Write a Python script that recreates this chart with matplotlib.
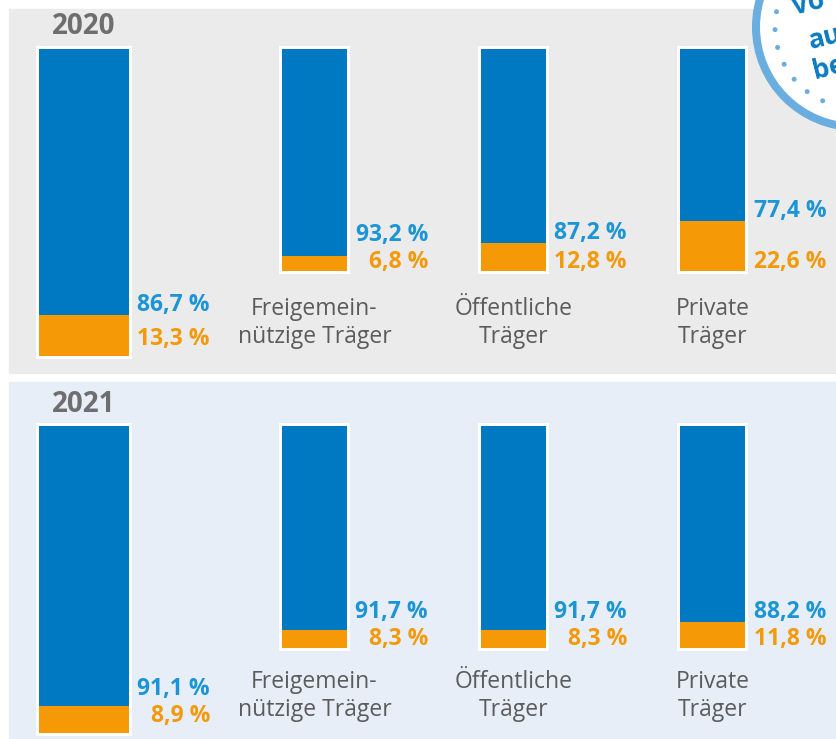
import matplotlib.pyplot as plt
from matplotlib.patches import Rectangle, Circle

# data
years = ["2020", "2021"]
carriers = ["", "Freigemein-\nnützige Träger", "Öffentliche\nTräger", "Private\nTräger"]
blue_2020 = [86.7, 93.2, 87.2, 77.4]
orange_2020 = [13.3, 6.8, 12.8, 22.6]
blue_2021 = [91.1, 91.7, 91.7, 88.2]
orange_2021 = [8.9, 8.3, 8.3, 11.8]

# colours
BAR_BLUE = "#0079c2"
BAR_ORANGE = "#f59a06"
TXT_BLUE = "#1b95d5"
TXT_ORANGE = "#f39a0b"
GREY = "#5b5b5b"
YEAR_GREY = "#6e6e6e"
STAMP = "#6aaee0"

FONT = "Open Sans"

W, H = 837, 739
fig = plt.figure(figsize=(W / 100, H / 100), dpi=100)
ax = fig.add_axes([0, 0, 1, 1])
ax.set_xlim(0, W)
ax.set_ylim(H, 0)
ax.axis("off")

# layout (pixels)
panel_top = [9, 382]
panel_height = [364, 360]
panel_color = ["#ebebeb", "#e8eef8"]
bar_top = [49, 426]
bar_x = [84, 314.5, 513.5, 713]
bar_w = [90, 65, 65, 65]
bar_len = [307, 222, 222, 222]
label_gap = 81

def pct(v):
    return f"{v:.1f}".replace(".", ",") + " %"

for p, year in enumerate(years):
    blue = blue_2020 if year == "2020" else blue_2021
    orange = orange_2020 if year == "2020" else orange_2021
    ax.add_patch(Rectangle((9, panel_top[p]), W, panel_height[p],
                           color=panel_color[p], zorder=0))
    top = bar_top[p]
    ax.text(bar_x[0], top - 22, year, ha="center", va="center",
            fontsize=20, fontweight="bold", color=YEAR_GREY, family=FONT)

    for i in range(4):
        L = bar_len[i]
        hb = blue[i] / 100 * L
        ho = orange[i] / 100 * L
        # white frame
        ax.bar(bar_x[i], L + 6, width=bar_w[i] + 6, bottom=top - 3,
               color="white", zorder=1)
        ax.bar(bar_x[i], hb, width=bar_w[i], bottom=top, color=BAR_BLUE, zorder=2)
        ax.bar(bar_x[i], ho, width=bar_w[i], bottom=top + hb, color=BAR_ORANGE, zorder=2)

        right = bar_x[i] + bar_w[i] / 2 + label_gap
        bottom = top + L
        y_orange = bottom - (17 if i == 0 else 9)
        y_blue = min(top + hb - 10, y_orange - 27)
        ax.text(right, y_blue, pct(blue[i]), ha="right", va="center",
                fontsize=16.5, fontweight="bold", color=TXT_BLUE, family=FONT)
        ax.text(right, y_orange, pct(orange[i]), ha="right", va="center",
                fontsize=16.5, fontweight="bold", color=TXT_ORANGE, family=FONT)

        if carriers[i]:
            ax.text(bar_x[i], panel_top[p] + 314, carriers[i], ha="center",
                    va="center", fontsize=16.5, color=GREY, family=FONT,
                    linespacing=1.25)

# stamp in the corner
ax.add_patch(Circle((856, 27), 100, facecolor="white", edgecolor=STAMP,
                    lw=5.8, zorder=5))
ring = Circle((856, 27), 81, fill=False, edgecolor=STAMP, lw=3.6,
              ls=(0, (0.01, 3.6)), zorder=6)
ring.set_capstyle("round")
ax.add_patch(ring)
for txt, (tx, ty) in zip(["Vo", "au", "be"], [(789, 4), (806, 38), (810, 68)]):
    ax.text(tx, ty, txt, ha="left", va="center", rotation=14,
            fontsize=19, fontweight="bold", color="#0a7ac2", family=FONT,
            zorder=7, clip_on=True)

fig.savefig("out.png", dpi=100)
